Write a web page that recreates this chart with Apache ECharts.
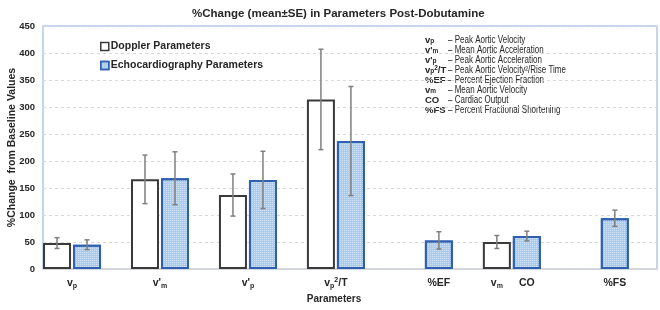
<!DOCTYPE html>
<html>
<head>
<meta charset="utf-8">
<script src="https://cdn.jsdelivr.net/npm/echarts@6/dist/echarts.min.js"></script>
<style>
  html, body { margin: 0; padding: 0; background: #fff; }
  #chart { width: 660px; height: 310px; }
</style>
</head>
<body>
<div id="chart"></div>
<script>
// groups along the x axis (index = position)
const groups = ['vp', "v'm", "v'p", 'vp2/T', '%EF', 'vm/CO', '%FS'];
const doppler = [48, 166, 137, 314, null, 50, null];
const dopplerErr = [10, 45, 39, 93, null, 12, null];
const echo = [45, 168, 165, 237, 53, 61, 94];
const echoErr = [9, 49, 53, 101, 16, 9, 15];

// x tick labels: rich text, group index, side (-1 doppler bar, 0 centre, 1 echo bar)
const xLabels = ['{m|v}{s|p}', "{m|v'}{s|m}", "{m|v'}{s|p}", '{m|v}{s|p}{u|2}{m|/T}', '{m|%EF}', '{m|v}{s|m}', '{m|CO}', '{m|%FS}'];
const xLabelGroup = [0, 1, 2, 3, 4, 5, 5, 6];
const xLabelSide = [0, 0, 0, 0, 1, -1, 1, 1];

const noteSymbols = ['{b|v}{s|p}', "{b|v'}{s|m}", "{b|v'}{s|p}", '{b|v}{s|p}{u|2}{b|/T}', '{b|%EF}', '{b|v}{s|m}', '{b|CO}', '{b|%FS}'];
const noteTexts = [
  '– Peak Aortic Velocity',
  '– Mean Aortic Acceleration',
  '– Peak Aortic Acceleration',
  '– Peak Aortic Velocity²/Rise Time',
  '– Percent Ejection Fraction',
  '– Mean Aortic Velocity',
  '– Cardiac Output',
  '– Percent Fractional Shortening'
];

const FONT = "'Liberation Sans', Arial, sans-serif";
const TXT = '#262626';
const BAR_W = 28;
const BAR_GAP = 2;
const X_MIN = -0.33, X_MAX = 6.65;
const GRID_L = 43, GRID_R = 3;
const pxPerUnit = (660 - GRID_L - GRID_R) / (X_MAX - X_MIN);
const sideOff = (BAR_W + BAR_GAP) / 2;

const labelPos = xLabelGroup.map((g, i) => g + xLabelSide[i] * sideOff / pxPerUnit);

function pairs(vals) {
  return vals.map((v, i) => (v == null ? null : [i, v])).filter(Boolean);
}
function errPairs(vals, errs, side) {
  return vals.map((v, i) => (v == null ? null : [i, v, errs[i], side])).filter(Boolean);
}

const chart = echarts.init(document.getElementById('chart'));

function renderErr(params, api) {
  const x = api.value(0), y = api.value(1), e = api.value(2), side = api.value(3);
  const hi = api.coord([x, y + e]);
  const lo = api.coord([x, y - e]);
  const cx = hi[0] + side * sideOff;
  const cap = 2.5;
  const style = { stroke: '#7f7f7f', lineWidth: 1.5 };
  return {
    type: 'group',
    children: [
      { type: 'line', shape: { x1: cx, y1: hi[1], x2: cx, y2: lo[1] }, style },
      { type: 'line', shape: { x1: cx - cap, y1: hi[1], x2: cx + cap, y2: hi[1] }, style },
      { type: 'line', shape: { x1: cx - cap, y1: lo[1], x2: cx + cap, y2: lo[1] }, style }
    ]
  };
}

const richX = {
  m: { fontFamily: FONT, fontWeight: 'bold', fontSize: 10.5, color: TXT, lineHeight: 13 },
  s: { fontFamily: FONT, fontWeight: 'bold', fontSize: 7, color: TXT, lineHeight: 6, verticalAlign: 'bottom' },
  u: { fontFamily: FONT, fontWeight: 'bold', fontSize: 7, color: TXT, lineHeight: 7, verticalAlign: 'top' }
};
const richNote = {
  b: { fontFamily: FONT, fontWeight: 'bold', fontSize: 9.5, color: TXT, lineHeight: 10 },
  s: { fontFamily: FONT, fontWeight: 'bold', fontSize: 6.5, color: TXT, lineHeight: 5, verticalAlign: 'bottom' },
  u: { fontFamily: FONT, fontWeight: 'bold', fontSize: 6.5, color: TXT, lineHeight: 6, verticalAlign: 'top' }
};

chart.setOption({
  animation: false,
  textStyle: { fontFamily: FONT },
  title: {
    text: '%Change (mean±SE) in Parameters Post-Dobutamine',
    left: 187,
    top: 3,
    textStyle: { fontFamily: FONT, fontWeight: 'bold', fontSize: 11.5, color: TXT }
  },
  legend: {
    data: ['Doppler Parameters', 'Echocardiography Parameters'],
    orient: 'vertical',
    left: 95,
    top: 36,
    itemGap: 8,
    itemWidth: 8,
    itemHeight: 8,
    icon: 'rect',
    itemStyle: { borderWidth: 1.5 },
    textStyle: { fontFamily: FONT, fontWeight: 'bold', fontSize: 10.5, color: TXT, padding: [0, 0, 0, -3] }
  },
  grid: {
    left: GRID_L, right: GRID_R, top: 26, bottom: 41,
    outerBoundsMode: 'none',
    show: true, borderColor: '#b4c7e7', borderWidth: 1.5, backgroundColor: 'transparent'
  },
  xAxis: {
    type: 'value',
    min: X_MIN,
    max: X_MAX,
    name: 'Parameters',
    nameLocation: 'middle',
    nameGap: 25,
    nameMoveOverlap: false,
    nameTextStyle: { fontFamily: FONT, fontWeight: 'bold', fontSize: 10, color: TXT, padding: [0, 32, 0, 0] },
    axisLine: { lineStyle: { color: '#d9d9d9', width: 1.5 } },
    axisTick: { show: false },
    splitLine: { show: false },
    axisLabel: {
      customValues: labelPos,
      margin: 8,
      formatter: (v) => {
        const i = labelPos.findIndex((p) => Math.abs(p - v) < 1e-6);
        return i < 0 ? '' : xLabels[i];
      },
      rich: richX
    }
  },
  yAxis: {
    type: 'value',
    min: 0,
    max: 450,
    interval: 50,
    name: '%Change  from Baseline Values',
    nameLocation: 'middle',
    nameGap: 25,
    nameMoveOverlap: false,
    nameTextStyle: { fontFamily: FONT, fontWeight: 'bold', fontSize: 10.5, color: TXT },
    axisLine: { show: false },
    axisTick: { show: false },
    axisLabel: { fontFamily: FONT, fontWeight: 'bold', fontSize: 9.5, color: TXT, margin: 8 },
    splitLine: { lineStyle: { color: '#d9d9d9', type: [3, 3], width: 1 } }
  },
  graphic: [
    {
      type: 'text',
      left: 425,
      top: 35,
      style: { text: noteSymbols.join('\n'), rich: richNote, fill: TXT }
    },
    {
      type: 'text',
      left: 448,
      top: 35,
      scaleX: 0.8,
      style: {
        text: noteTexts.join('\n'),
        fontFamily: FONT, fontSize: 10, lineHeight: 10, fill: TXT
      }
    }
  ],
  series: [
    {
      name: 'Doppler Parameters',
      type: 'bar',
      data: pairs(doppler),
      barWidth: BAR_W,
      barGap: (BAR_GAP / BAR_W * 100) + '%',
      itemStyle: { color: '#ffffff', borderColor: '#3a3a3a', borderWidth: 2 }
    },
    {
      name: 'Echocardiography Parameters',
      type: 'bar',
      data: pairs(echo),
      barWidth: BAR_W,
      barGap: (BAR_GAP / BAR_W * 100) + '%',
      itemStyle: {
        color: '#a9cbec',
        borderColor: '#2f5fb0',
        borderWidth: 2,
        decal: { symbol: 'rect', symbolSize: 1, dashArrayX: [1, 1], dashArrayY: [1, 1], color: 'rgba(255,255,255,0.45)' }
      }
    },
    {
      name: 'doppler-err',
      type: 'custom',
      renderItem: renderErr,
      data: errPairs(doppler, dopplerErr, -1),
      z: 5,
      silent: true
    },
    {
      name: 'echo-err',
      type: 'custom',
      renderItem: renderErr,
      data: errPairs(echo, echoErr, 1),
      z: 5,
      silent: true
    }
  ]
});
</script>
</body>
</html>
